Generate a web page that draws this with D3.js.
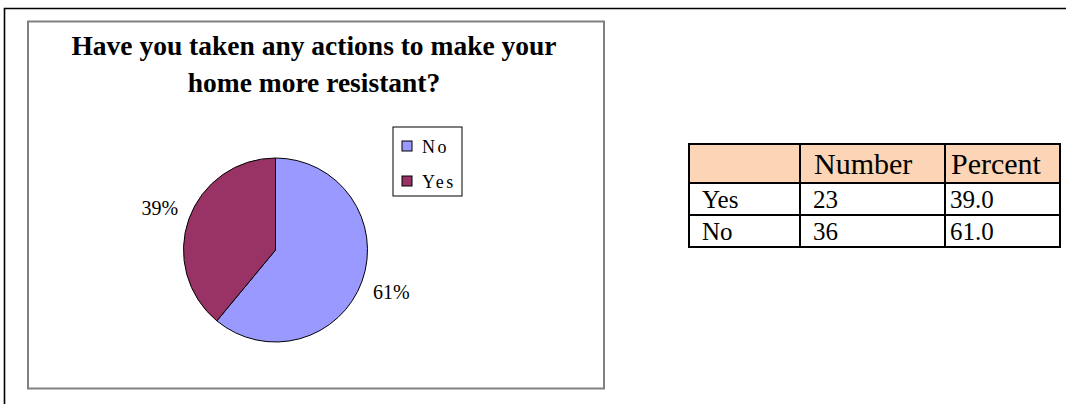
<!DOCTYPE html>
<html>
<head>
<meta charset="utf-8">
<script src="https://cdn.jsdelivr.net/npm/d3@7/dist/d3.min.js"></script>
<style>
  html, body { margin: 0; padding: 0; background: #fff; }
  svg { display: block; }
</style>
</head>
<body>
<svg id="chart" width="1066" height="404"></svg>
<script>
// Survey answers
const categories = ["No", "Yes"];
const percents = [61, 39];
const colors = ["#9999FF", "#993366"];

// Summary table
const tableHeader = ["", "Number", "Percent"];
const tableRows = ["Yes", "No"];
const tableNumbers = [23, 36];
const tablePercents = ["39.0", "61.0"];

const titleLines = ["Have you taken any actions to make your", "home more resistant?"];

const svg = d3.select("#chart");
const serif = "'Liberation Serif', 'Times New Roman', serif";

// Page frame (top and left rule)
svg.append("path")
  .attr("d", "M4.5,404 V8.5 H1066")
  .attr("fill", "none").attr("stroke", "#000").attr("stroke-width", 1.6);

// Chart area box
svg.append("rect")
  .attr("x", 28).attr("y", 21.5).attr("width", 576).attr("height", 367)
  .attr("fill", "#fff").attr("stroke", "#808080").attr("stroke-width", 2);

// Title
svg.append("text")
  .attr("x", 314).attr("y", 55)
  .attr("text-anchor", "middle")
  .style("font-family", serif).style("font-weight", "bold").style("font-size", "27.5px")
  .selectAll("tspan").data(titleLines).join("tspan")
  .attr("x", 314).attr("dy", (d, i) => i === 0 ? 0 : 37)
  .text(d => d);

// Pie
const cx = 275.5, cy = 250, r = 92;
const pie = d3.pie().sort(null).value(d => d.value);
const arcs = pie(categories.map((c, i) => ({ name: c, value: percents[i], color: colors[i] })));
const arc = d3.arc().innerRadius(0).outerRadius(r);
const labelArc = d3.arc().innerRadius(123).outerRadius(123);

const g = svg.append("g").attr("transform", `translate(${cx},${cy})`);
g.selectAll("path.slice").data(arcs).join("path")
  .attr("class", "slice")
  .attr("d", arc)
  .attr("fill", d => d.data.color)
  .attr("stroke", "#000").attr("stroke-width", 1);

g.selectAll("text.lbl").data(arcs).join("text")
  .attr("class", "lbl")
  .attr("transform", d => `translate(${labelArc.centroid(d)})`)
  .attr("text-anchor", "middle").attr("dy", "0.35em")
  .style("font-family", serif).style("font-size", "20px")
  .text(d => d.data.value + "%");

// Legend
const lg = svg.append("g").attr("transform", "translate(393,127)");
lg.append("rect").attr("x", 0).attr("y", 0).attr("width", 69).attr("height", 69)
  .attr("fill", "#fff").attr("stroke", "#000").attr("stroke-width", 1);
const item = lg.selectAll("g.item").data(categories).join("g")
  .attr("class", "item")
  .attr("transform", (d, i) => `translate(9,${14 + i * 35})`);
item.append("rect").attr("width", 10).attr("height", 10)
  .attr("fill", (d, i) => colors[i]).attr("stroke", "#000").attr("stroke-width", 1);
item.append("text").attr("x", 20).attr("y", 12)
  .style("font-family", serif).style("font-size", "18px").style("letter-spacing", "2.5px")
  .text(d => d);

// Table
const colX = [689, 800, 945, 1060];
const rowY = [144, 183, 215, 247];
const headerPad = [14, 14, 6];
const bodyPad = [13, 13, 5];
const tg = svg.append("g");
tg.append("rect").attr("x", colX[0]).attr("y", rowY[0])
  .attr("width", colX[3] - colX[0]).attr("height", rowY[1] - rowY[0])
  .attr("fill", "#FBD5B5");
// grid lines
colX.forEach(x => tg.append("line").attr("x1", x).attr("x2", x)
  .attr("y1", rowY[0]).attr("y2", rowY[3]).attr("stroke", "#000").attr("stroke-width", 2));
rowY.forEach(y => tg.append("line").attr("x1", colX[0] - 1).attr("x2", colX[3] + 1)
  .attr("y1", y).attr("y2", y).attr("stroke", "#000").attr("stroke-width", 2));

tg.selectAll("text.hdr").data(tableHeader).join("text")
  .attr("class", "hdr")
  .attr("x", (d, i) => colX[i] + headerPad[i]).attr("y", 174)
  .style("font-family", serif).style("font-size", "30px")
  .text(d => d);

const bodyRows = tableRows.map((lab, i) => [lab, String(tableNumbers[i]), tablePercents[i]]);
bodyRows.forEach((row, ri) => {
  tg.selectAll(null).data(row).join("text")
    .attr("x", (d, i) => colX[i] + bodyPad[i]).attr("y", rowY[ri + 1] + 25)
    .style("font-family", serif).style("font-size", "25px")
    .text(d => d);
});
</script>
</body>
</html>
